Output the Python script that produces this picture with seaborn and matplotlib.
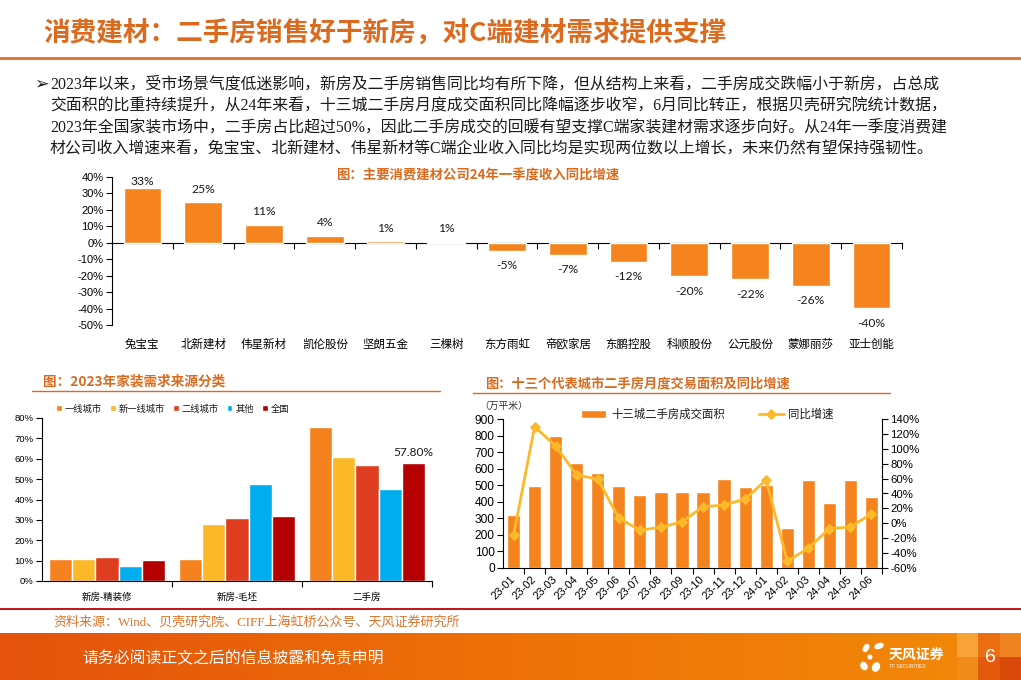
import numpy as np
import pandas as pd
import matplotlib
matplotlib.use("Agg")
import matplotlib.pyplot as plt
from matplotlib.colors import LinearSegmentedColormap
from matplotlib.lines import Line2D
from matplotlib.patches import Ellipse, Rectangle
from matplotlib.ticker import FuncFormatter
import seaborn as sns

# 图：主要消费建材公司24年一季度收入同比增速（%）
companies = ["兔宝宝", "北新建材", "伟星新材", "凯伦股份", "坚朗五金", "三棵树", "东方雨虹",
             "帝欧家居", "东鹏控股", "科顺股份", "公元股份", "蒙娜丽莎", "亚士创能"]
q1_growth = [33.4, 24.6, 10.9, 4.3, 0.8, 0.7, -4.7, -7.4, -11.6, -20.3, -22.2, -26.1, -39.8]

# 图：2023年家装需求来源分类（%）
demand_sources = ["新房-精装修", "新房-毛坯", "二手房"]
city_tiers = ["一线城市", "新一线城市", "二线城市", "其他", "全国"]
share_tier1 = [10.8, 10.8, 75.7]
share_new_tier1 = [10.8, 28.0, 61.0]
share_tier2 = [11.8, 31.0, 57.0]
share_other = [7.4, 47.4, 45.2]
share_national = [10.3, 32.0, 57.8]

# 图：十三个代表城市二手房月度交易面积（万平米）及同比增速（%）
months = ["23-01", "23-02", "23-03", "23-04", "23-05", "23-06", "23-07", "23-08", "23-09",
          "23-10", "23-11", "23-12", "24-01", "24-02", "24-03", "24-04", "24-05", "24-06"]
deal_area = [318, 494, 796, 633, 571, 494, 440, 458, 457, 457, 536, 487, 500, 239, 530, 390, 533, 429]
deal_yoy = [-16.2, 129.7, 103.8, 64.8, 59.4, 7.0, -9.3, -5.3, 2.0, 22.2, 24.5, 32.6, 58.2,
            -51.0, -33.5, -7.0, -5.0, 12.8]

ORANGE = "#F5841F"
TITLE_ORANGE = "#DC6A1E"
TIER_COLORS = ["#F5821F", "#FBB829", "#DE3D1F", "#00AEEF", "#B40000"]
LINE_YELLOW = "#FCBA2A"

W, H = 1021, 680
CJK = ["Liberation Sans", "Noto Sans CJK SC", "DejaVu Sans"]

sns.set_theme(style="ticks", rc={
    "axes.edgecolor": "black", "axes.linewidth": 0.8,
    "xtick.color": "black", "ytick.color": "black",
    "xtick.major.width": 0.8, "ytick.major.width": 0.8,
    "text.color": "#1a1a1a", "axes.labelcolor": "#1a1a1a",
})
plt.rcParams["font.family"] = CJK
plt.rcParams["axes.unicode_minus"] = False


def px_box(x0, y0, x1, y1):
    # pixel box (top-left origin) -> figure fraction rect
    return [x0 / W, 1 - y1 / H, (x1 - x0) / W, (y1 - y0) / H]


def fx(x):
    return x / W


def fy(y):
    return 1 - y / H


pct = FuncFormatter(lambda v, _: f"{v:.0f}%")

fig = plt.figure(figsize=(W / 100, H / 100), dpi=100)

# ---- header ----
fig.text(fx(43), fy(33), "消费建材：二手房销售好于新房，对C端建材需求提供支撑",
         fontsize=19.2, fontweight="bold", color=TITLE_ORANGE, ha="left", va="center",
         family=["Noto Sans CJK SC", "DejaVu Sans"])
fig.add_artist(Line2D([0, 1], [fy(58), fy(58)], color="#E27A3A", lw=2.2))

para = [
    "2023年以来，受市场景气度低迷影响，新房及二手房销售同比均有所下降，但从结构上来看，二手房成交跌幅小于新房，占总成",
    "交面积的比重持续提升，从24年来看，十三城二手房月度成交面积同比降幅逐步收窄，6月同比转正，根据贝壳研究院统计数据，",
    "2023年全国家装市场中，二手房占比超过50%，因此二手房成交的回暖有望支撑C端家装建材需求逐步向好。从24年一季度消费建",
    "材公司收入增速来看，兔宝宝、北新建材、伟星新材等C端企业收入同比均是实现两位数以上增长，未来仍然有望保持强韧性。",
]
fig.text(fx(34), fy(84), "➢", fontsize=12.5, color="#1a1a1a", ha="left", va="center",
         family=["DejaVu Sans"])
for k, line in enumerate(para):
    fig.text(fx(50), fy(85 + 21.5 * k), line, fontsize=11.45, color="#1a1a1a",
             ha="left", va="center", family=["Liberation Serif", "Noto Sans CJK SC"])

# ---- chart 1: company growth ----
ax1 = fig.add_axes(px_box(112, 177, 902, 325))
sns.barplot(x=companies, y=q1_growth, color=ORANGE, saturation=1, width=0.62,
            errorbar=None, ax=ax1)
ax1.set_xlim(-0.5, len(companies) - 0.5)
ax1.set_ylim(-50, 40)
ax1.set_yticks(np.arange(-50, 41, 10))
ax1.yaxis.set_major_formatter(pct)
ax1.tick_params(axis="y", length=4, direction="out", labelsize=8, pad=2)
ax1.tick_params(axis="x", length=0, labelsize=8.3, pad=10)
for s in ["top", "right", "bottom"]:
    ax1.spines[s].set_visible(False)
ax1.set_xlabel("")
ax1.set_ylabel("")
zero_axis = ax1.secondary_xaxis(50 / 90)
zero_axis.set_alignment("bottom")
zero_axis.set_xticks(np.arange(len(companies)) + 0.5)
zero_axis.tick_params(axis="x", length=4, direction="out", labelbottom=False, labeltop=False)
for i, v in enumerate(q1_growth):
    ly = min(v + 7.9, 37.0) if v >= 0 else v - 9.1
    ax1.text(i, ly, f"{v:.0f}%", ha="center", va="center", fontsize=8.7,
             color="#1a1a1a", family=["Lato", "DejaVu Sans"])
fig.text(fx(478), fy(175), "图：主要消费建材公司24年一季度收入同比增速", fontsize=9.6,
         fontweight="bold", color=TITLE_ORANGE, ha="center", va="center",
         family=["Noto Sans CJK SC", "DejaVu Sans"])

# ---- chart 2: demand source ----
fig.text(fx(43), fy(382), "图：2023年家装需求来源分类", fontsize=9.8, fontweight="bold",
         color=TITLE_ORANGE, ha="left", va="center", family=["Noto Sans CJK SC", "DejaVu Sans"])
fig.add_artist(Line2D([fx(32), fx(440)], [fy(391), fy(391)], color=TITLE_ORANGE, lw=1))

demand_df = pd.DataFrame({
    "来源": demand_sources * len(city_tiers),
    "城市": np.repeat(city_tiers, len(demand_sources)),
    "占比": share_tier1 + share_new_tier1 + share_tier2 + share_other + share_national,
})
ax2 = fig.add_axes(px_box(42, 418, 432, 581))
sns.barplot(data=demand_df, x="来源", y="占比", hue="城市", hue_order=city_tiers,
            palette=TIER_COLORS, saturation=1, width=0.89, errorbar=None, ax=ax2)
ax2.set_xlim(-0.5, len(demand_sources) - 0.5)
ax2.set_ylim(0, 80)
ax2.set_yticks(np.arange(0, 81, 10))
ax2.yaxis.set_major_formatter(pct)
ax2.set_xticks(np.arange(len(demand_sources)) + 0.5, minor=True)
ax2.tick_params(axis="y", length=4, direction="out", labelsize=6.8, pad=2)
ax2.tick_params(axis="x", which="major", length=0, labelsize=6.8, pad=8)
ax2.tick_params(axis="x", which="minor", length=4, direction="out", width=0.8)
for s in ["top", "right"]:
    ax2.spines[s].set_visible(False)
ax2.set_xlabel("")
ax2.set_ylabel("")
ax2.bar_label(ax2.containers[4], labels=["", "", f"{share_national[2]:.2f}%"], padding=4,
              fontsize=8.6, family=["Lato", "DejaVu Sans"], color="#1a1a1a")
ax2.legend(loc="center", bbox_to_anchor=(0.335, 1.056), ncol=5, frameon=False,
           fontsize=6.7, handlelength=0.6, handleheight=0.6, handletextpad=0.3,
           columnspacing=0.9, borderaxespad=0, borderpad=0)

# ---- chart 3: 13-city second-hand deals ----
fig.text(fx(485), fy(384), "图：十三个代表城市二手房月度交易面积及同比增速", fontsize=9.5,
         fontweight="bold", color=TITLE_ORANGE, ha="left", va="center",
         family=["Noto Sans CJK SC", "DejaVu Sans"])
fig.add_artist(Line2D([fx(473), fx(890)], [fy(393), fy(393)], color=TITLE_ORANGE, lw=1))
fig.text(fx(479), fy(406), "（万平米）", fontsize=7, color="#333333", ha="left",
         va="center", family=["Noto Sans CJK SC", "DejaVu Sans"])

ax3 = fig.add_axes(px_box(503, 419, 882, 568))
sns.barplot(x=months, y=deal_area, color=ORANGE, saturation=1, width=0.63, errorbar=None,
            label="十三城二手房成交面积", ax=ax3)
ax4 = ax3.twinx()
sns.lineplot(x=np.arange(len(months)), y=deal_yoy, color=LINE_YELLOW, lw=2, marker="D",
             markersize=5.5, markeredgecolor=LINE_YELLOW, label="同比增速", ax=ax4)
ax3.set_xlim(-0.5, len(months) - 0.5)
ax3.set_ylim(0, 900)
ax3.set_yticks(np.arange(0, 901, 100))
ax4.set_ylim(-60, 140)
ax4.set_yticks(np.arange(-60, 141, 20))
ax4.yaxis.set_major_formatter(pct)
ax3.set_xticks(np.arange(len(months)), months, rotation=45, ha="right",
               rotation_mode="anchor", va="center")
ax3.set_xticks(np.arange(len(months)) + 0.5, minor=True)
ax3.tick_params(axis="x", which="major", length=0, labelsize=8, pad=7)
ax3.tick_params(axis="x", which="minor", length=4, direction="out", width=0.8)
ax3.tick_params(axis="y", length=4, direction="out", labelsize=8.6, pad=2)
ax4.tick_params(axis="y", length=4, direction="out", labelsize=8.2, pad=2)
ax3.spines["top"].set_visible(False)
ax3.spines["right"].set_visible(False)
for s in ["top", "left", "bottom"]:
    ax4.spines[s].set_visible(False)
for a in (ax3, ax4):
    a.set_xlabel("")
    a.set_ylabel("")
h1, l1 = ax3.get_legend_handles_labels()
h2, l2 = ax4.get_legend_handles_labels()
if ax4.get_legend() is not None:
    ax4.get_legend().remove()
ax3.legend(h1 + h2, l1 + l2, loc="center", bbox_to_anchor=(0.54, 1.034), ncol=2,
           frameon=False, fontsize=8.2, handlelength=2.2, handletextpad=0.4,
           columnspacing=3.0, borderaxespad=0, borderpad=0)

# ---- source + footer ----
fig.add_artist(Line2D([0, 1], [fy(609), fy(609)], color="#C00000", lw=1.3))
fig.text(fx(53), fy(622), "资料来源：Wind、贝壳研究院、CIFF上海虹桥公众号、天风证券研究所",
         fontsize=9.4, color="#E07428", ha="left", va="center",
         family=["Liberation Serif", "Noto Sans CJK SC"])

fax = fig.add_axes([0, 0, 1, 47 / H])
band = LinearSegmentedColormap.from_list("band", ["#E4520C", "#EE7208", "#F28A08"])
fax.imshow(np.linspace(0, 1, 256)[None, :], cmap=band, aspect="auto",
           extent=(0, W, H, 633))
for (bx, by, bw, bh, bc) in [(957, 633, 21, 24, "#F7A338"), (957, 657, 21, 23, "#F08C1C"),
                             (978, 633, 22, 24, "#EC6E12"), (978, 657, 22, 23, "#E35A0C"),
                             (1000, 633, 21, 24, "#F08420"), (1000, 657, 21, 23, "#D94A0A")]:
    fax.add_patch(Rectangle((bx, by), bw, bh, color=bc, lw=0))
for (ex, ey, ew, eh, ang) in [(866, 648, 6, 9, 30), (879, 646, 10, 6, -20), (870, 657, 5, 5, 0),
                              (864, 666, 7, 9, -30), (876, 667, 8, 10, 25)]:
    fax.add_patch(Ellipse((ex, ey), ew, eh, angle=ang, color="white", lw=0))
fax.text(889, 656, "天风证券", fontsize=10, color="white", fontweight="bold", ha="left",
         va="center", family=["Noto Sans CJK SC", "DejaVu Sans"])
fax.text(889, 667, "TF SECURITIES", fontsize=3.5, color="white", ha="left", va="center")
fax.text(990, 658, "6", fontsize=14, color="white", ha="center", va="center")
fax.text(82, 659, "请务必阅读正文之后的信息披露和免责申明", fontsize=11.4, color="white",
         ha="left", va="center", family=["Noto Sans CJK SC", "DejaVu Sans"])
fax.set_xlim(0, W)
fax.set_ylim(H, 633)
fax.axis("off")

fig.savefig("out.png", dpi=100)
